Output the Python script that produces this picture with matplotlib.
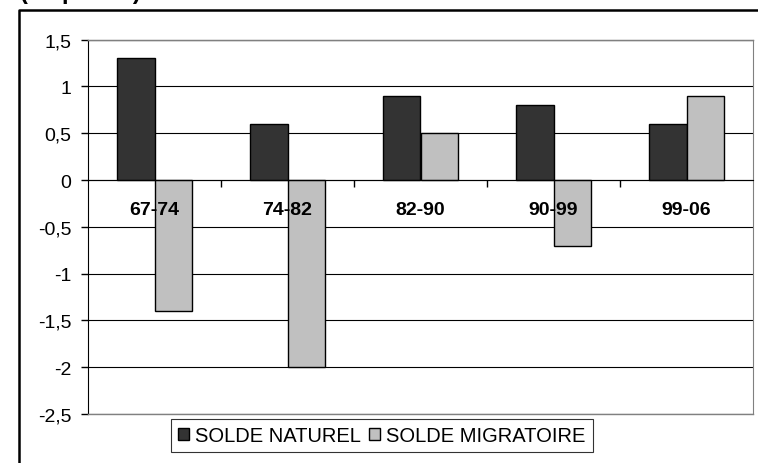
import numpy as np
import matplotlib.pyplot as plt
from matplotlib.lines import Line2D

plt.rcParams['font.family'] = ['Liberation Sans', 'DejaVu Sans']

# periods and balances (%)
periods = ['67-74', '74-82', '82-90', '90-99', '99-06']
naturel = [1.3, 0.6, 0.9, 0.8, 0.6]
migratoire = [-1.4, -2.0, 0.5, -0.7, 0.9]
yticks = [1.5, 1, 0.5, 0, -0.5, -1, -1.5, -2, -2.5]
ylabels = ['1,5', '1', '0,5', '0', '-0,5', '-1', '-1,5', '-2', '-2,5']

fig = plt.figure(figsize=(7.58, 4.64), dpi=100)
ax = fig.add_axes([88/758, 1 - 415/464, 665/758, (415 - 40.7)/464])

x = np.arange(len(periods))
w = 0.285
ax.bar(x - w/2, naturel, w, color='#333333', edgecolor='black', lw=1,
       label='SOLDE NATUREL', zorder=3)
ax.bar(x + w/2, migratoire, w, color='#c0c0c0', edgecolor='black', lw=1,
       label='SOLDE MIGRATOIRE', zorder=3)

ax.set_xlim(-0.5, len(periods) - 0.5)
ax.set_ylim(-2.5, 1.5)
ax.set_yticks(yticks)
ax.set_yticklabels(ylabels, fontsize=14)
ax.yaxis.grid(True, color='black', lw=0.8, zorder=0)
ax.tick_params(axis='y', direction='out', length=5, width=1, pad=7)

# category axis on the zero line
ax.spines['bottom'].set_position(('data', 0))
ax.spines['bottom'].set_zorder(4)
ax.set_xticks(x[:-1] + 0.5)
ax.set_xticklabels([])
ax.tick_params(axis='x', which='major', direction='out', length=5, width=1)

# category labels drawn over the bars
for xi, p in zip(x, periods):
    ax.annotate(p, (xi, 0), xytext=(0, -15), textcoords='offset points',
                ha='center', va='top', fontsize=14, fontweight='bold', zorder=6)

for s in ['top', 'right']:
    ax.spines[s].set_color('#808080')
ax.spines['left'].set_color('black')
ax.plot([0, 1], [0, 0], transform=ax.transAxes, color='#808080', lw=1,
        clip_on=False, zorder=5)
ax.plot([0, 1], [1, 1], transform=ax.transAxes, color='#808080', lw=1,
        clip_on=False, zorder=5)

leg = fig.legend(loc='center', bbox_to_anchor=(382/758, 1 - 436.5/464),
                 ncol=2, fontsize=14.5, frameon=True, fancybox=False,
                 handlelength=0.55, handleheight=0.55, handletextpad=0.3,
                 columnspacing=0.4, borderpad=0.35, borderaxespad=0)
leg.get_frame().set_edgecolor('black')
leg.get_frame().set_linewidth(0.8)

# outer frame and title cut by the top edge
fig.add_artist(Line2D([18.5/758, 18.5/758, 1.01], [-0.01, 1 - 11/464, 1 - 11/464],
                      transform=fig.transFigure, color='black', lw=1.8))
fig.text(20/758, 1 + 0.5/464, '(en points)', fontsize=17, fontweight='bold',
         va='baseline', ha='left')

fig.savefig('out.png', dpi=100)
